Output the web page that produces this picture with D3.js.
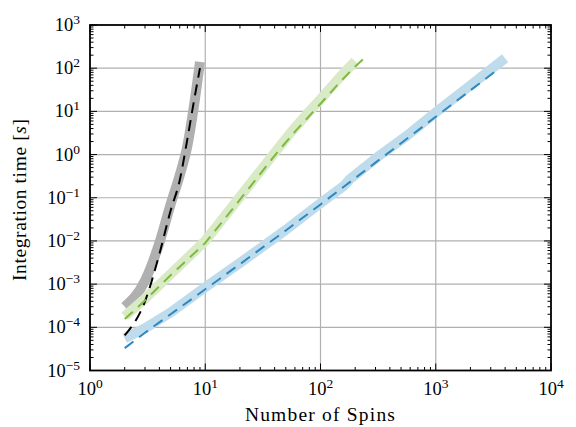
<!DOCTYPE html>
<html>
<head>
<meta charset="utf-8">
<script src="https://cdn.jsdelivr.net/npm/d3@7"></script>
<style>
  body { margin: 0; background: #fff; }
  svg text { font-family: "Liberation Serif", "DejaVu Serif", serif; fill: #000; }
</style>
</head>
<body>
<div id="chart"></div>
<script>
// exact integration (grey) and its fit (black dashed)
const nExact = [2, 3, 4, 5, 6, 7, 8, 9];
const tExact = [3.0e-4, 1.2e-3, 9e-3, 7e-2, 0.33, 1.6, 14, 140];
const nExactFit = [2, 3, 4, 5, 6, 7, 8, 9];
const tExactFit = [6.5e-5, 4e-4, 5e-3, 5e-2, 0.25, 2.3, 18, 100];

// green: cubic scaling
const nCubic = [2, 3, 5, 10, 20, 40, 55, 80, 100, 150, 200];
const tCubic = [1.8e-4, 4.6e-4, 1.7e-3, 1e-2, 0.105, 1.1, 3.2, 10, 19, 65, 145];
const nCubicFit = [2, 3, 5, 10, 20, 40, 60, 100, 150, 200, 250];
const tCubicFit = [1.55e-4, 4.2e-4, 1.6e-3, 9e-3, 9e-2, 0.95, 3.4, 15, 50, 110, 190];

// blue: quadratic scaling
const nQuad = [2, 3, 5, 10, 20, 50, 100, 160, 180, 330, 560, 1000, 2000, 4000];
const tQuad = [5.6e-5, 9.5e-5, 2.2e-4, 8.5e-4, 3.1e-3, 1.8e-2, 7.5e-2, 0.19, 0.27, 0.98, 2.7, 9.5, 40, 170];
const nQuadFit = [2, 3, 5, 10, 20, 50, 100, 300, 1000, 3300];
const tQuadFit = [3.3e-5, 7.5e-5, 2e-4, 7.6e-4, 2.9e-3, 1.75e-2, 7e-2, 0.65, 7.5, 85];

const xExps = [0, 1, 2, 3, 4];
const yExps = [-5, -4, -3, -2, -1, 0, 1, 2, 3];

const width = 576;
const height = 427;
const mLeft = 90, mRight = 551, mTop = 25, mBottom = 370.5;

const svg = d3.select("#chart").append("svg")
  .attr("width", width)
  .attr("height", height);

const x = d3.scaleLog().domain([1, 1e4]).range([mLeft, mRight]);
const y = d3.scaleLog().domain([1e-5, 1e3]).range([mBottom, mTop]);

// grid
svg.append("g").selectAll("line").data(xExps.slice(1, -1)).enter().append("line")
  .attr("x1", (d) => x(10 ** d)).attr("x2", (d) => x(10 ** d))
  .attr("y1", mTop).attr("y2", mBottom)
  .style("stroke", "#b0b0b0").style("stroke-width", 1.2);
svg.append("g").selectAll("line").data(yExps.slice(1, -1)).enter().append("line")
  .attr("y1", (d) => y(10 ** d)).attr("y2", (d) => y(10 ** d))
  .attr("x1", mLeft).attr("x2", mRight)
  .style("stroke", "#b0b0b0").style("stroke-width", 1.2);

const plot = svg.append("g");
const smooth = d3.line().x((d) => x(d[0])).y((d) => y(d[1])).curve(d3.curveMonotoneX);
const straight = d3.line().x((d) => x(d[0])).y((d) => y(d[1]));

const series = [
  { n: nExact, t: tExact, color: "#b0b0b0", w: 10, dash: null, gen: smooth },
  { n: nCubic, t: tCubic, color: "#d9eac6", w: 10, dash: null, gen: straight },
  { n: nQuad, t: tQuad, color: "#bfdcec", w: 10, dash: null, gen: straight },
  { n: nExactFit, t: tExactFit, color: "#000000", w: 2, dash: "11,7", gen: smooth },
  { n: nCubicFit, t: tCubicFit, color: "#80b940", w: 2, dash: "11,7", gen: straight },
  { n: nQuadFit, t: tQuadFit, color: "#2b88c0", w: 2, dash: "11,7", gen: straight }
];

series.forEach((s) => {
  plot.append("path")
    .attr("d", s.gen(d3.zip(s.n, s.t)))
    .style("fill", "none")
    .style("stroke", s.color)
    .style("stroke-width", s.w)
    .style("stroke-linejoin", "round")
    .style("stroke-dasharray", s.dash);
});

// ticks (inward, all four sides)
const minorVals = (exps) => {
  const out = [];
  exps.slice(0, -1).forEach((e) => {
    for (let k = 2; k <= 9; k++) out.push(k * 10 ** e);
  });
  return out;
};
const ticks = svg.append("g").style("stroke", "#000").style("stroke-width", 1);
const xMaj = xExps.map((e) => 10 ** e), yMaj = yExps.map((e) => 10 ** e);
[[xMaj, 7], [minorVals(xExps), 3.5]].forEach(([vals, len]) => {
  vals.forEach((v) => {
    ticks.append("line").attr("x1", x(v)).attr("x2", x(v)).attr("y1", mBottom).attr("y2", mBottom - len);
    ticks.append("line").attr("x1", x(v)).attr("x2", x(v)).attr("y1", mTop).attr("y2", mTop + len);
  });
});
[[yMaj, 7], [minorVals(yExps), 3.5]].forEach(([vals, len]) => {
  vals.forEach((v) => {
    ticks.append("line").attr("y1", y(v)).attr("y2", y(v)).attr("x1", mLeft).attr("x2", mLeft + len);
    ticks.append("line").attr("y1", y(v)).attr("y2", y(v)).attr("x1", mRight).attr("x2", mRight - len);
  });
});

svg.append("rect")
  .attr("x", mLeft).attr("y", mTop)
  .attr("width", mRight - mLeft).attr("height", mBottom - mTop)
  .style("fill", "none").style("stroke", "#000").style("stroke-width", 1.8);

// tick labels
const fmtExp = (e) => (e < 0 ? "\u2212" + (-e) : String(e));
xExps.forEach((e) => {
  const t = svg.append("text")
    .attr("x", x(10 ** e)).attr("y", 395)
    .attr("text-anchor", "middle")
    .style("font-size", "18.5px");
  t.append("tspan").text("10");
  t.append("tspan").attr("dy", -7).style("font-size", "13.5px").text(fmtExp(e));
});
yExps.forEach((e) => {
  const t = svg.append("text")
    .attr("x", 80).attr("y", y(10 ** e) + 6)
    .attr("text-anchor", "end")
    .style("font-size", "18.5px");
  t.append("tspan").text("10");
  t.append("tspan").attr("dy", -7).style("font-size", "13.5px").text(fmtExp(e));
});

// axis titles
svg.append("text")
  .attr("x", (mLeft + mRight) / 2).attr("y", 421)
  .attr("text-anchor", "middle")
  .style("font-size", "19.5px")
  .style("letter-spacing", "1.2px")
  .text("Number of Spins");

const yt = svg.append("text")
  .attr("transform", `translate(26, ${(mTop + mBottom) / 2 + 2}) rotate(-90)`)
  .attr("text-anchor", "middle")
  .style("font-size", "19.5px")
  .style("letter-spacing", "0.6px");
yt.append("tspan").text("Integration time [");
yt.append("tspan").style("font-style", "italic").text("s");
yt.append("tspan").text("]");
</script>
</body>
</html>
